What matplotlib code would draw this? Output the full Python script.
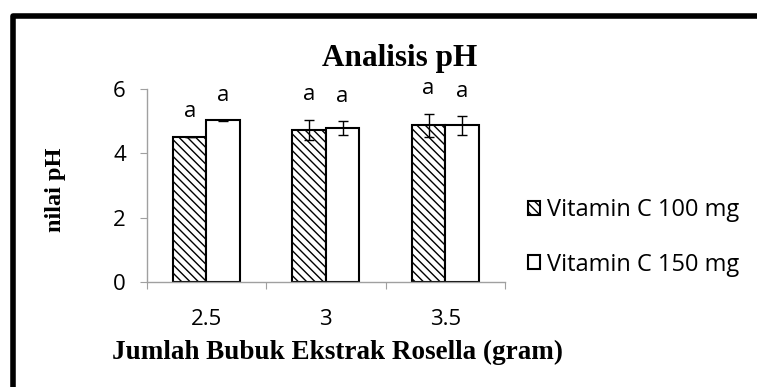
import matplotlib
matplotlib.use("Agg")

import matplotlib.pyplot as plt
from matplotlib.lines import Line2D
import numpy as np

# data
doses = ["2.5", "3", "3.5"]
ph_100 = [4.50, 4.73, 4.87]
err_100 = [0.00, 0.30, 0.36]
ph_150 = [5.03, 4.79, 4.87]
err_150 = [0.02, 0.23, 0.30]
letters_100 = ["a", "a", "a"]
letters_150 = ["a", "a", "a"]
series_names = ["Vitamin C 100 mg", "Vitamin C 150 mg"]

W, H = 757, 387
SANS = "Open Sans"
SERIF = "Liberation Serif"
FS = 16

plt.rcParams["hatch.linewidth"] = 1.0
plt.rcParams["font.family"] = SANS

fig = plt.figure(figsize=(W / 100, H / 100), dpi=100)
fig.patch.set_facecolor("white")

# plot area in pixel terms
ax = fig.add_axes([146.7 / W, (H - 282.3) / H, (505 - 146.7) / W, (282.3 - 89) / H])

x = np.arange(len(doses))
bw = 0.28

b1 = ax.bar(x - bw / 2, ph_100, bw, color="white", edgecolor="black",
            linewidth=1.5, hatch="\\\\\\\\", label=series_names[0], zorder=2)
b2 = ax.bar(x + bw / 2, ph_150, bw, color="white", edgecolor="black",
            linewidth=1.5, label=series_names[1], zorder=2)

ax.errorbar(x - bw / 2, ph_100, yerr=err_100, fmt="none", ecolor="black",
            elinewidth=1, capsize=3.5, capthick=1, zorder=3)
ax.errorbar(x + bw / 2, ph_150, yerr=err_150, fmt="none", ecolor="black",
            elinewidth=1, capsize=3.5, capthick=1, zorder=3)

for xi, v, e, lab in zip(x - bw / 2, ph_100, err_100, letters_100):
    ax.text(xi, v + e + 0.8, lab, ha="center", va="center", fontsize=FS)
for xi, v, e, lab in zip(x + bw / 2, ph_150, err_150, letters_150):
    ax.text(xi, v + e + 0.75, lab, ha="center", va="center", fontsize=FS)

ax.set_xlim(-0.5, len(doses) - 0.5)
ax.set_ylim(0, 6)
ax.set_yticks([0, 2, 4, 6])

# boundaries get tick marks, centres get the labels
ax.set_xticks(np.arange(len(doses) + 1) - 0.5)
ax.set_xticklabels([])
ax.set_xticks(x, minor=True)
ax.set_xticklabels(doses, minor=True)
ax.tick_params(axis="x", which="major", direction="out", length=5, color="#a0a0a0")
ax.tick_params(axis="x", which="minor", length=0, pad=19, labelsize=FS)
ax.tick_params(axis="y", direction="out", length=5, color="#a0a0a0", pad=10, labelsize=FS)

for side in ["top", "right"]:
    ax.spines[side].set_visible(False)
for side in ["left", "bottom"]:
    ax.spines[side].set_color("#a0a0a0")
    ax.spines[side].set_linewidth(1)

fig.text(400 / W, 1 - 66 / H, "Analisis pH", ha="center", va="baseline",
         family=SERIF, fontweight="bold", fontsize=22.5)
fig.text(337.5 / W, 28 / H, "Jumlah Bubuk Ekstrak Rosella (gram)", ha="center",
         va="baseline", family=SERIF, fontweight="bold", fontsize=19.5)
fig.text(56 / W, 1 - 190 / H, "nilai pH", ha="center", va="center", rotation=90,
         family=SERIF, fontweight="bold", fontsize=17.5)

ax.legend(handles=[b1, b2], loc="upper left", bbox_to_anchor=(528 / W, 1 - 198 / H),
          bbox_transform=fig.transFigure, frameon=False, fontsize=17,
          handlelength=0.52, handleheight=0.52, handletextpad=0.3,
          labelspacing=1.3, borderpad=0, borderaxespad=0)

# thick border on left and top (chart frame, cut off at right/bottom)
frame = Line2D([13 / W, 13 / W, 1.1], [-0.1, 1 - 15.5 / H, 1 - 15.5 / H],
               transform=fig.transFigure, color="black", linewidth=4,
               solid_joinstyle="round")
fig.add_artist(frame)

fig.savefig("out.png", dpi=100)
